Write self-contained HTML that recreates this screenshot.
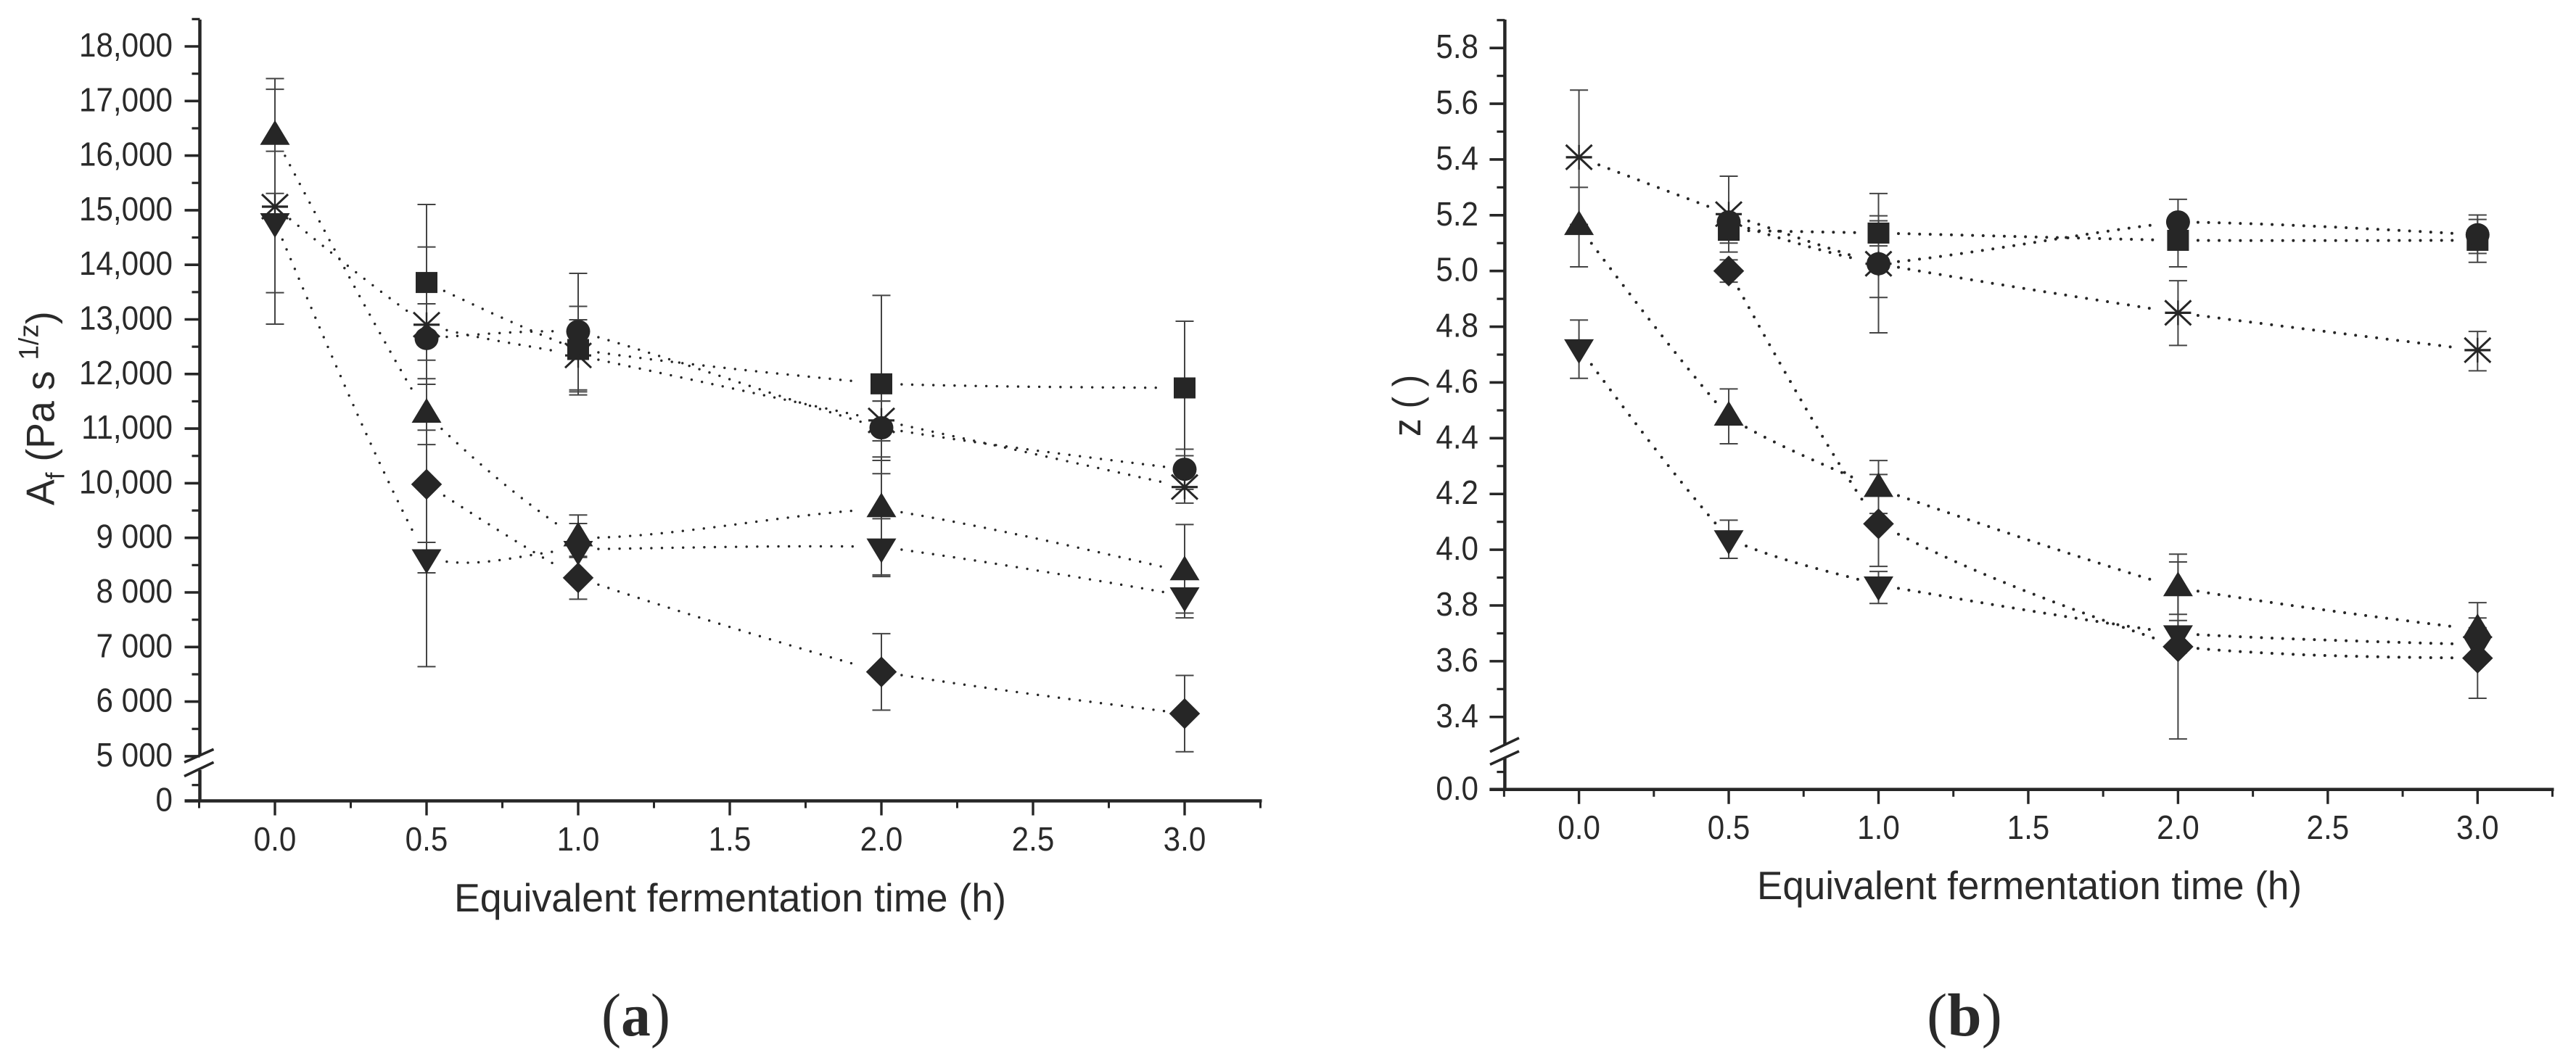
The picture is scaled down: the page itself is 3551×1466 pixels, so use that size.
<!DOCTYPE html>
<html lang="en">
<head>
<meta charset="utf-8">
<title>Equivalent fermentation time charts</title>
<style>
html,body{margin:0;padding:0;background:#fff;}
svg{display:block;}
text{font-family:"Liberation Sans",sans-serif;fill:#2a2a2a;white-space:pre;}
.serif{font-family:"Liberation Serif",serif;}
</style>
</head>
<body>
<svg id="figure" xmlns="http://www.w3.org/2000/svg" width="3551" height="1466" viewBox="0 0 3551 1466">
  <rect x="0" y="0" width="3551" height="1466" fill="#ffffff"/>
  <g id="panel-a"></g>
  <g id="panel-b"></g>

  <text transform="translate(74.6,697) rotate(-90) scale(.975,1)" font-size="55">A<tspan font-size="36" dy="14">f</tspan><tspan dy="-14"> (Pa s </tspan><tspan font-size="38" dy="-22">1/z</tspan><tspan dy="22">)</tspan></text>
  <text x="626" y="1257" font-size="55" textLength="761" lengthAdjust="spacingAndGlyphs">Equivalent fermentation time (h)</text>
  <text class="serif" x="829" y="1428" font-size="84" textLength="95" lengthAdjust="spacingAndGlyphs">(<tspan font-weight="bold">a</tspan>)</text>

  <text transform="translate(1958,602) rotate(-90) scale(.9,1)" font-size="55">z ( )</text>
  <text x="2422" y="1240" font-size="55" textLength="751" lengthAdjust="spacingAndGlyphs">Equivalent fermentation time (h)</text>
  <text class="serif" x="2656" y="1428" font-size="84" textLength="104" lengthAdjust="spacingAndGlyphs">(<tspan font-weight="bold">b</tspan>)</text>
</svg>

<script>
// Shared x categories (hours)
const times = [0, 0.5, 1, 2, 3];
const xTickValues = [0, 0.5, 1, 1.5, 2, 2.5, 3];
const xTickLabels = ["0.0", "0.5", "1.0", "1.5", "2.0", "2.5", "3.0"];
const xMinorValues = [-0.25, 0.25, 0.75, 1.25, 1.75, 2.25, 2.75, 3.25];

// Panel (a) tick data
const aTickValues = [0, 5000, 6000, 7000, 8000, 9000, 10000, 11000, 12000, 13000, 14000, 15000, 16000, 17000, 18000];
const aTickLabels = ["0", "5 000", "6 000", "7 000", "8 000", "9 000", "10,000", "11,000", "12,000", "13,000", "14,000", "15,000", "16,000", "17,000", "18,000"];
const aMinorValues = [290, 5500, 6500, 7500, 8500, 9500, 10500, 11500, 12500, 13500, 14500, 15500, 16500, 17500, 18500];

// Panel (a) series
const aSquare = [null, 13676, 12449, 11820, 11745];
const aSquareHi = [null, 15105, 13239, 13440, 12966];
const aSquareLo = [null, 12253, 11673, 10175, 10503];
const aCircle = [null, 12650, 12780, 11014, 10255];
const aCircleHi = [null, 14327, 13844, 11505, 10623];
const aCircleLo = [null, 10972, 11709, 10417, 9887];
const aTriangle = [16350, 11260, 8996, 9530, 8375];
const aTriangleHi = [17411, 11915, 9418, 10480, 9243];
const aTriangleLo = [15308, 10708, 8640, 8320, 7622];
const aInverted = [14792, 8637, 8790, 8835, 7940];
const aInvertedHi = [16080, 8917, 9262, 9350, 8280];
const aInvertedLo = [13489, 8358, 8258, 8290, 7533];
const aDiamond = [null, 9980, 8268, 6544, 5780];
const aDiamondHi = [null, 13285, 8660, 7245, 6480];
const aDiamondLo = [null, 6640, 7876, 5843, 5081];
const aStar = [15065, 12903, 12340, 11150, 9930];
const aStarHi = [17214, 13285, 12993, 11505, 10225];
const aStarLo = [12914, 11812, 11618, 10775, 9635];

// Panel (b) tick data
const bTickValues = [0, 3.4, 3.6, 3.8, 4.0, 4.2, 4.4, 4.6, 4.8, 5.0, 5.2, 5.4, 5.6, 5.8];
const bTickLabels = ["0.0", "3.4", "3.6", "3.8", "4.0", "4.2", "4.4", "4.6", "4.8", "5.0", "5.2", "5.4", "5.6", "5.8"];
const bMinorValues = [0.063, 3.5, 3.7, 3.9, 4.1, 4.3, 4.5, 4.7, 4.9, 5.1, 5.3, 5.5, 5.7, 5.9];

// Panel (b) series
const bSquare = [null, 5.146, 5.136, 5.11, 5.11];
const bSquareHi = [null, 5.19, 5.18, 5.19, 5.185];
const bSquareLo = [null, 5.10, 5.09, 5.015, 5.031];
const bCircle = [null, 5.176, 5.026, 5.176, 5.13];
const bCircleHi = [null, 5.2, 5.278, 5.257, 5.201];
const bCircleLo = [null, 5.15, 4.778, 5.09, 5.063];
const bTriangle = [5.159, 4.475, 4.219, 3.863, 3.713];
const bTriangleHi = [5.3, 4.577, 4.32, 3.956, 3.81];
const bTriangleLo = [5.015, 4.38, 4.13, 3.768, 3.63];
const bInverted = [4.725, 4.04, 3.874, 3.699, 3.66];
const bInvertedHi = [4.824, 4.106, 3.922, 3.746, 3.72];
const bInvertedLo = [4.615, 3.969, 3.807, 3.63, 3.60];
const bDiamond = [null, 5.0, 4.093, 3.652, 3.611];
const bDiamondHi = [null, 5.04, 4.27, 3.984, 3.755];
const bDiamondLo = [null, 4.96, 3.94, 3.321, 3.467];
const bStar = [5.408, 5.204, 5.026, 4.85, 4.716];
const bStarHi = [5.649, 5.34, 5.198, 4.965, 4.783];
const bStarLo = [5.167, 5.068, 4.905, 4.733, 4.642];

const NS = "http://www.w3.org/2000/svg";
const INK = "#262626";
const TENSION = 0.3;

function make(parent, tag, attrs) {
  const e = document.createElementNS(NS, tag);
  for (const k in attrs) e.setAttribute(k, attrs[k]);
  parent.appendChild(e);
  return e;
}

function line(parent, x1, y1, x2, y2, w, color) {
  return make(parent, "line", { x1: x1, y1: y1, x2: x2, y2: y2, stroke: color || INK, "stroke-width": w });
}

// Gently curved sampling through points, with gaps next to each marker
function curvePoints(pts, gap) {
  const out = [];
  const n = pts.length;
  const m = [];
  for (let i = 0; i < n; i++) {
    if (i > 0 && i < n - 1) m[i] = (pts[i + 1][1] - pts[i - 1][1]) / (pts[i + 1][0] - pts[i - 1][0]);
  }
  const s0 = (pts[1][1] - pts[0][1]) / (pts[1][0] - pts[0][0]);
  const s1 = (pts[n - 1][1] - pts[n - 2][1]) / (pts[n - 1][0] - pts[n - 2][0]);
  m[0] = (3 * s0 - m[1]) / 2;
  m[n - 1] = (3 * s1 - m[n - 2]) / 2;
  for (let i = 0; i < n - 1; i++) {
    const a = pts[i], b = pts[i + 1], h = b[0] - a[0];
    const sec = (b[1] - a[1]) / h;
    const ma = sec + TENSION * (m[i] - sec);
    const mb = sec + TENSION * (m[i + 1] - sec);
    const seg = [];
    for (let s = 0; s <= 60; s++) {
      const t = s / 60, t2 = t * t, t3 = t2 * t;
      const x = a[0] + h * t;
      const y = (2 * t3 - 3 * t2 + 1) * a[1] + (t3 - 2 * t2 + t) * h * ma + (-2 * t3 + 3 * t2) * b[1] + (t3 - t2) * h * mb;
      if (Math.hypot(x - a[0], y - a[1]) > gap && Math.hypot(x - b[0], y - b[1]) > gap) seg.push(x.toFixed(1) + "," + y.toFixed(1));
    }
    out.push(seg.join(" "));
  }
  return out;
}

function drawMarker(parent, kind, cx, cy) {
  if (kind === "square") {
    return make(parent, "rect", { x: cx - 15, y: cy - 14.5, width: 30, height: 29, fill: INK });
  }
  if (kind === "circle") {
    return make(parent, "ellipse", { cx: cx, cy: cy, rx: 16.5, ry: 16, fill: INK });
  }
  if (kind === "triangle") {
    return make(parent, "polygon", { points: [cx, cy - 22.5, cx + 20.5, cy + 11.5, cx - 20.5, cy + 11.5].join(" "), fill: INK });
  }
  if (kind === "inverted") {
    return make(parent, "polygon", { points: [cx - 20.5, cy - 11.5, cx + 20.5, cy - 11.5, cx, cy + 22.5].join(" "), fill: INK });
  }
  if (kind === "diamond") {
    return make(parent, "polygon", { points: [cx, cy - 21, cx + 21, cy, cx, cy + 21, cx - 21, cy].join(" "), fill: INK, stroke: INK, "stroke-linejoin": "round", "stroke-width": 0.5 });
  }
  const g = make(parent, "g", {});
  line(g, cx - 18, cy - 17, cx + 18, cy + 17, 3);
  line(g, cx - 18, cy + 17, cx + 18, cy - 17, 3);
  line(g, cx - 18, cy, cx + 18, cy, 3.2);
  line(g, cx, cy - 17, cx, cy + 17, 2.4);
  return g;
}

function drawPanel(root, cfg) {
  const grid = make(root, "g", {});
  
  

  // Axis lines with a break
  const yAxisTop = line(grid, cfg.axisX, cfg.axisTop, cfg.axisX, cfg.breakTop, 4.5);
  
  
  const yAxisLow = line(grid, cfg.axisX, cfg.breakBottom, cfg.axisX, cfg.y(0) + 2, 4.5);
  
  
  const xAxis = line(grid, cfg.axisX - 21, cfg.y(0), cfg.x(3.25) + 2, cfg.y(0), 4.5);
  
  

  // Y ticks
  cfg.yTicks.forEach(function (v, i) {
    const py = cfg.y(v);
    const t = line(grid, cfg.axisX - 21, py, cfg.axisX, py, 3.6);
    
    
    const lab = make(grid, "text", { transform: "translate(" + cfg.yLabelX + "," + (py + 14) + ") scale(.917,1)", "text-anchor": "end", "font-size": 46 });
    lab.textContent = cfg.yLabels[i];
    
    
  });
  cfg.yMinor.forEach(function (v) {
    const py = cfg.y(v);
    const t = line(grid, cfg.axisX - 11, py, cfg.axisX, py, 3.2);
    
    
  });

  // X ticks
  xTickValues.forEach(function (v, i) {
    const px = cfg.x(v);
    const t = line(grid, px, cfg.y(0), px, cfg.y(0) + 20, 3.4);
    
    
    const lab = make(grid, "text", { transform: "translate(" + px + "," + cfg.xLabelY + ") scale(.917,1)", "text-anchor": "middle", "font-size": 46 });
    lab.textContent = xTickLabels[i];
    
    
  });
  xMinorValues.forEach(function (v) {
    const px = cfg.x(v);
    const t = line(grid, px, cfg.y(0), px, cfg.y(0) + 10, 3);
    
    
  });

  // Axis break marks
  cfg.breaks.forEach(function (b) {
    const mask = line(grid, b[0], b[1], b[2], b[3], 3.6);
    
    
  });

  // Series
  const lineLayer = make(root, "g", {});
  
  
  const errLayer = make(root, "g", {});
  
  
  const markLayer = make(root, "g", {});
  
  

  cfg.series.forEach(function (s) {
    const pts = [];
    s.values.forEach(function (v, i) {
      if (v !== null) pts.push([cfg.x(times[i]), cfg.y(v)]);
    });
    curvePoints(pts, 26).forEach(function (p) {
      const pl = make(lineLayer, "polyline", { points: p, fill: "none", stroke: INK, "stroke-width": cfg.dot, "stroke-linecap": "round", "stroke-dasharray": "0 14.6" });
      
      
    });
    s.values.forEach(function (v, i) {
      if (v === null) return;
      const px = cfg.x(times[i]);
      const hi = cfg.y(s.hi[i]), lo = cfg.y(s.lo[i]);
      const stem = line(errLayer, px, hi, px, lo, 2, "#444444");
      
      
      const capHi = line(errLayer, px - 12.5, hi, px + 12.5, hi, 2, "#444444");
      
      
      const capLo = line(errLayer, px - 12.5, lo, px + 12.5, lo, 2, "#444444");
      
      
    });
  });
  cfg.series.forEach(function (s) {
    s.values.forEach(function (v, i) {
      if (v === null) return;
      const mk = drawMarker(markLayer, s.kind, cfg.x(times[i]), cfg.y(v));
      
      
    });
  });
}

function xA(t) { return 379 + 418 * t; }
function yA(v) { return v >= 5000 ? 64 + (18000 - v) * 0.0753 : 1104.5 - v * 0.0753; }
function xB(t) { return 2176.6 + 412.9 * t; }
function yB(v) { return v >= 3 ? 66.2 + (5.8 - v) * 384.4 : 1088.8 - v * 384.4; }

drawPanel(document.getElementById("panel-a"), {
  x: xA, y: yA, axisX: 275.5, axisTop: 27, breakTop: 1042, breakBottom: 1062, yLabelX: 238, xLabelY: 1173, dot: 3.4,
  yTicks: aTickValues, yLabels: aTickLabels, yMinor: aMinorValues,
  breaks: [[254, 1051.3, 294.5, 1033.3], [254, 1070.5, 294.5, 1051.3]],
  series: [
    { kind: "square", values: aSquare, hi: aSquareHi, lo: aSquareLo },
    { kind: "circle", values: aCircle, hi: aCircleHi, lo: aCircleLo },
    { kind: "triangle", values: aTriangle, hi: aTriangleHi, lo: aTriangleLo },
    { kind: "inverted", values: aInverted, hi: aInvertedHi, lo: aInvertedLo },
    { kind: "diamond", values: aDiamond, hi: aDiamondHi, lo: aDiamondLo },
    { kind: "star", values: aStar, hi: aStarHi, lo: aStarLo }
  ]
});

drawPanel(document.getElementById("panel-b"), {
  x: xB, y: yB, axisX: 2074.4, axisTop: 27, breakTop: 1027, breakBottom: 1046, yLabelX: 2038, xLabelY: 1157, dot: 4,
  yTicks: bTickValues, yLabels: bTickLabels, yMinor: bMinorValues,
  breaks: [[2054, 1036.8, 2094, 1017.7], [2054, 1054.4, 2094, 1036]],
  series: [
    { kind: "square", values: bSquare, hi: bSquareHi, lo: bSquareLo },
    { kind: "circle", values: bCircle, hi: bCircleHi, lo: bCircleLo },
    { kind: "triangle", values: bTriangle, hi: bTriangleHi, lo: bTriangleLo },
    { kind: "inverted", values: bInverted, hi: bInvertedHi, lo: bInvertedLo },
    { kind: "diamond", values: bDiamond, hi: bDiamondHi, lo: bDiamondLo },
    { kind: "star", values: bStar, hi: bStarHi, lo: bStarLo }
  ]
});
</script>
</body>
</html>
